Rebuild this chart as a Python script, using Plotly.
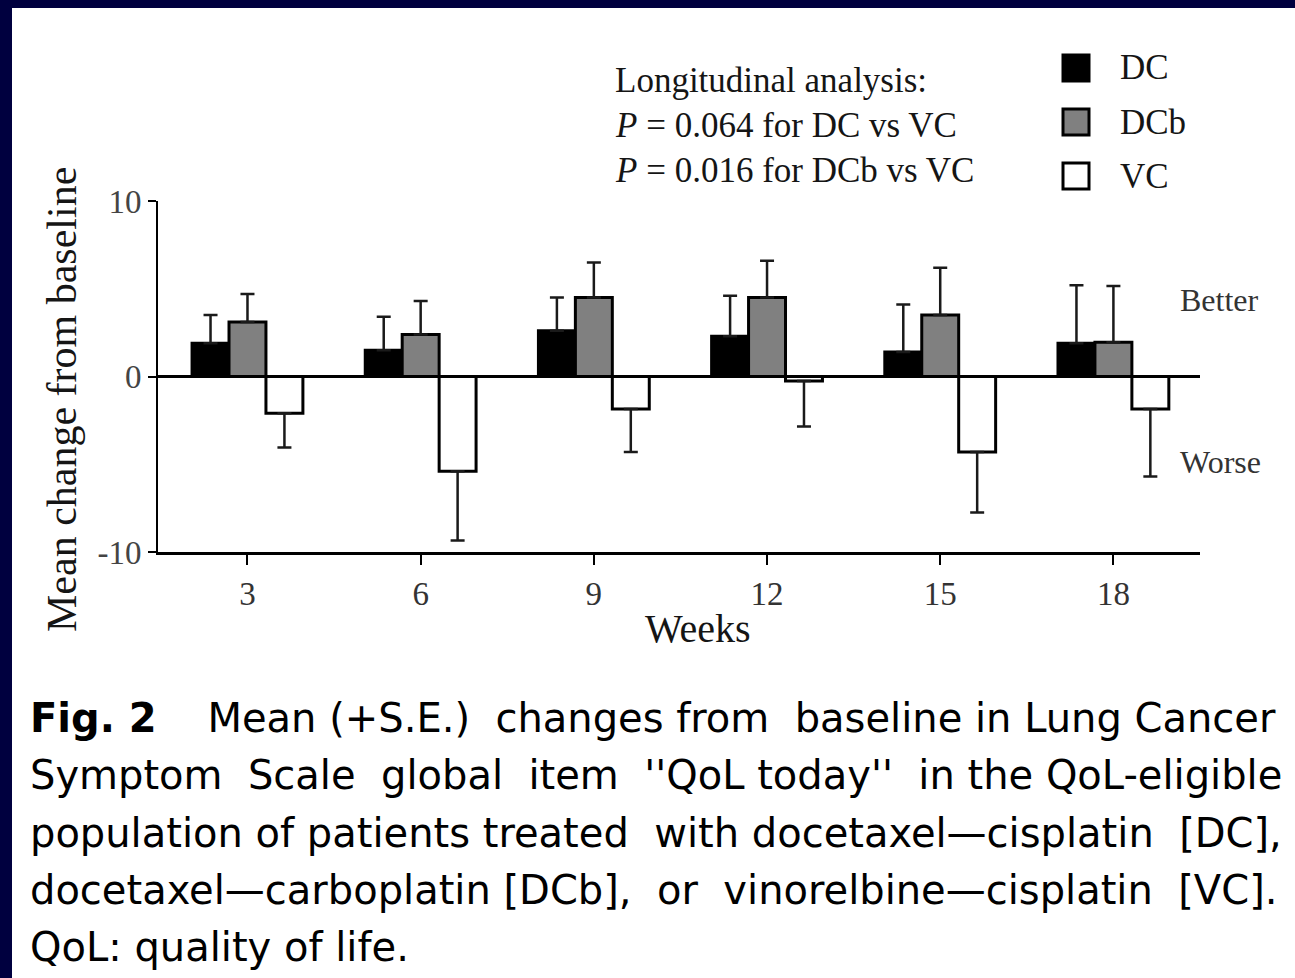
import plotly.graph_objects as go

# --- data -------------------------------------------------------------
weeks = [3, 6, 9, 12, 15, 18]
groups = ["DC", "DCb", "VC"]
dc_mean = [1.9, 1.5, 2.6, 2.3, 1.4, 1.9]
dc_se = [1.6, 1.9, 1.9, 2.3, 2.7, 3.3]
dcb_mean = [3.1, 2.4, 4.5, 4.5, 3.5, 1.95]
dcb_se = [1.6, 1.9, 2.0, 2.1, 2.7, 3.2]
vc_mean = [-2.1, -5.4, -1.85, -0.25, -4.3, -1.85]
vc_se = [1.95, 3.95, 2.45, 2.6, 3.45, 3.85]
y_ticks = [-10, 0, 10]

stats_lines = [
    "Longitudinal analysis:",
    "<i>P</i> = 0.064 for DC vs VC",
    "<i>P</i> = 0.016 for DCb vs VC",
]

NB = "\u00a0"  # extra word spacing for the justified caption lines
caption_lines = [
    f"<b>Fig. 2</b>    Mean (+S.E.) {NB}changes from {NB}baseline in Lung Cancer",
    f"Symptom {NB}Scale {NB}global {NB}item {NB}''QoL today'' {NB}in the QoL-eligible",
    f"population of patients treated {NB}with docetaxel\u2014cisplatin {NB}[DC],",
    f"docetaxel\u2014carboplatin [DCb], {NB}or {NB}vinorelbine\u2014cisplatin {NB}[VC].",
    "QoL: quality of life.",
]

fills = {"DC": "#000000", "DCb": "#808080", "VC": "#ffffff"}

# --- page geometry ----------------------------------------------------
W, H = 1295, 978
L, R, T, B = 158, 95, 201, 426
PW, PH = W - L - R, H - T - B


def px(x):
    return (x - L) / PW


def py(y):
    return (H - B - y) / PH


SERIF = "Liberation Serif, Times New Roman, serif"
SANS = "DejaVu Sans, sans-serif"
INK = "#151515"

fig = go.Figure()

series = [
    ("DC", dc_mean, dc_se, True),
    ("DCb", dcb_mean, dcb_se, True),
    ("VC", vc_mean, vc_se, False),
]
for name, mean, se, up in series:
    zeros = [0] * len(se)
    fig.add_trace(go.Bar(
        x=weeks, y=mean, name=name,
        marker=dict(color=fills[name], line=dict(color="#000000", width=3)),
        error_y=dict(
            type="data", symmetric=False,
            array=se if up else zeros,
            arrayminus=zeros if up else se,
            color="#1a1a1a", thickness=2.5, width=7,
        ),
        showlegend=False,
    ))

shapes = [
    # white page on the navy frame
    dict(type="rect", xref="paper", yref="paper", layer="below",
         x0=px(12), x1=px(W + 20), y0=py(H + 40), y1=py(8),
         fillcolor="#ffffff", line=dict(width=0)),
]
annotations = []

# legend swatches
for i, name in enumerate(groups):
    cy = 68 + 54 * i
    shapes.append(dict(
        type="rect", xref="paper", yref="paper",
        x0=px(1063), x1=px(1089), y0=py(cy + 13), y1=py(cy - 13),
        fillcolor=fills[name], line=dict(color="#000000", width=3),
    ))
    annotations.append(dict(
        x=px(1118), y=py(cy), xref="paper", yref="paper",
        text=name, showarrow=False, xanchor="left", yanchor="middle",
        font=dict(family=SERIF, size=35, color=INK),
    ))

# statistics block
for i, line in enumerate(stats_lines):
    annotations.append(dict(
        x=px(613), y=py(80 + 45 * i), xref="paper", yref="paper",
        text=line, showarrow=False, xanchor="left", yanchor="middle",
        font=dict(family=SERIF, size=35, color=INK),
    ))

# direction labels
for label, yc in [("Better", 300), ("Worse", 462)]:
    annotations.append(dict(
        x=px(1178), y=py(yc), xref="paper", yref="paper",
        text=label, showarrow=False, xanchor="left", yanchor="middle",
        font=dict(family=SERIF, size=32, color="#333333"),
    ))

# axis titles
annotations.append(dict(
    x=px(62), y=py(400), xref="paper", yref="paper",
    text="Mean change from baseline", textangle=-90, showarrow=False,
    xanchor="center", yanchor="middle",
    font=dict(family=SERIF, size=42, color=INK),
))
annotations.append(dict(
    x=px(698), y=py(628), xref="paper", yref="paper",
    text="Weeks", showarrow=False, xanchor="center", yanchor="middle",
    font=dict(family=SERIF, size=40, color=INK),
))

# figure caption
for i, line in enumerate(caption_lines):
    annotations.append(dict(
        x=px(28), y=py(718 + 57.3 * i), xref="paper", yref="paper",
        text=line, showarrow=False, xanchor="left", yanchor="middle",
        font=dict(family=SANS, size=40, color="#000000"),
    ))

fig.update_layout(
    width=W, height=H,
    margin=dict(l=L, r=R, t=T, b=B),
    paper_bgcolor="#00003f",
    plot_bgcolor="rgba(0,0,0,0)",
    barmode="group", bargap=0.36, bargroupgap=0,
    xaxis=dict(
        range=[1.45, 19.5], tickvals=weeks, ticktext=[str(w) for w in weeks],
        showline=True, linecolor="#000000", linewidth=3,
        ticks="outside", ticklen=10, tickwidth=2, tickcolor="#000000",
        showgrid=False, zeroline=False,
        tickfont=dict(family=SERIF, size=33, color="#333333"),
    ),
    yaxis=dict(
        range=[-10, 10], tickvals=y_ticks, ticktext=[str(v) for v in y_ticks],
        showline=True, linecolor="#000000", linewidth=2,
        ticks="outside", ticklen=8, tickwidth=2, tickcolor="#000000",
        showgrid=False, zeroline=True, zerolinecolor="#000000", zerolinewidth=3,
        tickfont=dict(family=SERIF, size=33, color="#444444"),
    ),
    shapes=shapes,
    annotations=annotations,
)

fig.write_html("out.html")
